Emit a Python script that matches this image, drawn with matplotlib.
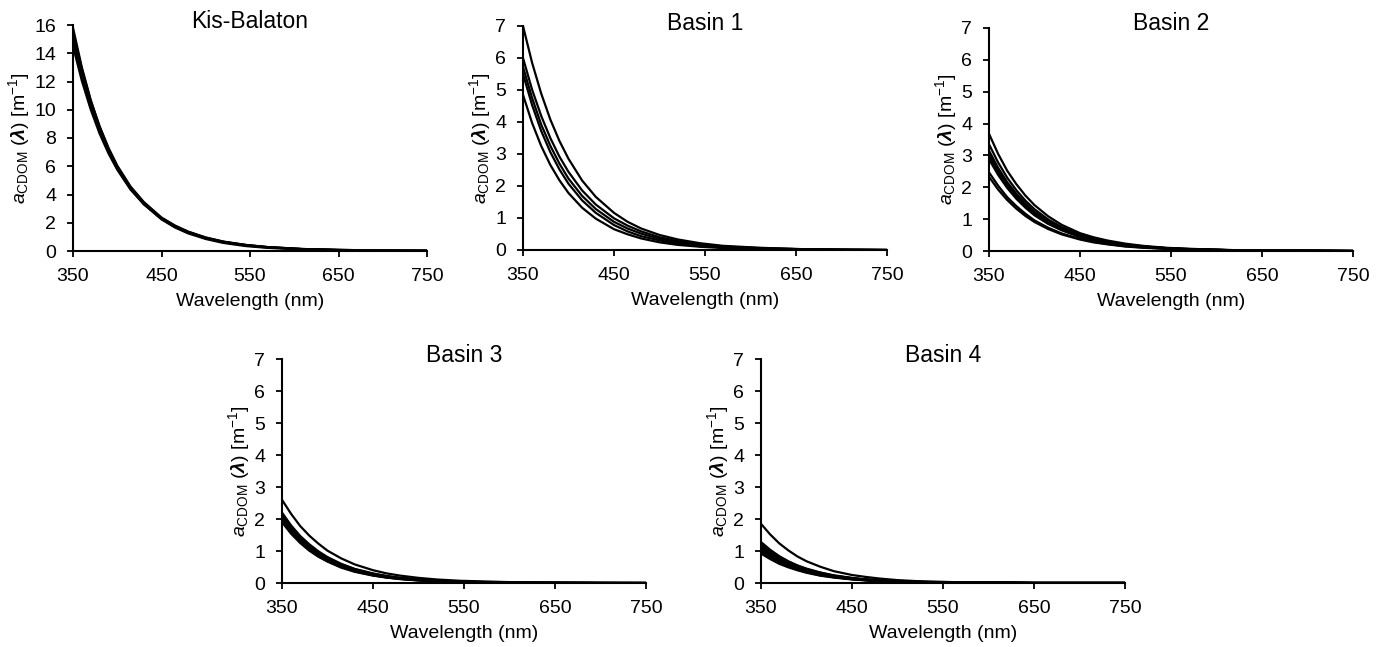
import matplotlib
matplotlib.use("Agg")
import matplotlib.pyplot as plt

plt.rcParams['font.family'] = ['Liberation Sans', 'DejaVu Sans']
plt.rcParams['mathtext.fontset'] = 'custom'
plt.rcParams['mathtext.rm'] = 'Liberation Sans'
plt.rcParams['mathtext.it'] = 'Liberation Sans:italic'
plt.rcParams['mathtext.bf'] = 'Liberation Sans:bold'
plt.rcParams['mathtext.bfit'] = 'Liberation Sans:bold:italic'

wavelength = [350, 360, 370, 380, 390, 400, 415, 430, 450, 465, 480, 500,
              520, 545, 570, 610, 650, 700, 750]

kis_balaton = [
    [15.8, 13.0, 10.7, 8.8, 7.24, 5.96, 4.44, 3.32, 2.24, 1.67, 1.25, 0.85, 0.57, 0.35, 0.22, 0.11, 0.06, 0.03, 0.02],
    [15.5, 12.87, 10.63, 8.84, 7.32, 6.05, 4.57, 3.47, 2.37, 1.81, 1.38, 0.96, 0.67, 0.43, 0.28, 0.14, 0.08, 0.03, 0.02],
    [15.2, 12.62, 10.43, 8.66, 7.17, 5.93, 4.48, 3.4, 2.33, 1.78, 1.35, 0.94, 0.65, 0.43, 0.27, 0.14, 0.08, 0.03, 0.02],
    [14.9, 12.37, 10.22, 8.49, 7.03, 5.81, 4.4, 3.34, 2.28, 1.74, 1.33, 0.92, 0.64, 0.42, 0.27, 0.13, 0.07, 0.03, 0.01],
    [14.5, 12.05, 10.02, 8.32, 6.92, 5.76, 4.35, 3.31, 2.28, 1.73, 1.31, 0.9, 0.62, 0.39, 0.25, 0.12, 0.06, 0.03, 0.01],
]

basin1 = [
    [7.0, 5.85, 4.89, 4.08, 3.41, 2.85, 2.17, 1.66, 1.16, 0.88, 0.67, 0.47, 0.33, 0.21, 0.13, 0.07, 0.03, 0.01, 0.0],
    [6.0, 5.01, 4.19, 3.5, 2.92, 2.44, 1.86, 1.42, 0.99, 0.76, 0.58, 0.4, 0.28, 0.18, 0.11, 0.06, 0.03, 0.01, 0.0],
    [5.72, 4.75, 3.92, 3.26, 2.7, 2.23, 1.69, 1.28, 0.88, 0.67, 0.51, 0.35, 0.25, 0.16, 0.1, 0.05, 0.03, 0.01, 0.0],
    [5.5, 4.53, 3.72, 3.06, 2.52, 2.07, 1.55, 1.16, 0.78, 0.58, 0.43, 0.3, 0.2, 0.12, 0.08, 0.04, 0.02, 0.01, 0.0],
    [4.85, 3.97, 3.25, 2.66, 2.18, 1.78, 1.32, 0.98, 0.65, 0.49, 0.36, 0.24, 0.16, 0.1, 0.06, 0.03, 0.01, 0.0, 0.0],
]

basin2 = [
    [3.68, 3.05, 2.52, 2.1, 1.74, 1.44, 1.09, 0.82, 0.56, 0.43, 0.33, 0.23, 0.16, 0.1, 0.07, 0.03, 0.02, 0.01, 0.0],
    [3.35, 2.78, 2.3, 1.91, 1.58, 1.31, 0.99, 0.75, 0.51, 0.39, 0.3, 0.21, 0.14, 0.09, 0.06, 0.03, 0.02, 0.01, 0.0],
    [3.15, 2.61, 2.16, 1.8, 1.49, 1.23, 0.93, 0.71, 0.48, 0.37, 0.28, 0.2, 0.14, 0.09, 0.06, 0.03, 0.02, 0.01, 0.0],
    [3.05, 2.53, 2.09, 1.74, 1.44, 1.19, 0.9, 0.68, 0.47, 0.36, 0.27, 0.19, 0.13, 0.09, 0.05, 0.03, 0.02, 0.01, 0.0],
    [2.95, 2.45, 2.02, 1.68, 1.39, 1.15, 0.87, 0.66, 0.45, 0.35, 0.26, 0.18, 0.13, 0.08, 0.05, 0.03, 0.01, 0.01, 0.0],
    [2.88, 2.39, 1.98, 1.64, 1.36, 1.12, 0.85, 0.65, 0.44, 0.34, 0.26, 0.18, 0.12, 0.08, 0.05, 0.03, 0.01, 0.01, 0.0],
    [2.47, 2.05, 1.69, 1.41, 1.17, 0.96, 0.73, 0.55, 0.38, 0.29, 0.22, 0.15, 0.11, 0.07, 0.04, 0.02, 0.01, 0.0, 0.0],
    [2.33, 1.93, 1.6, 1.33, 1.1, 0.91, 0.69, 0.52, 0.36, 0.27, 0.21, 0.14, 0.1, 0.07, 0.04, 0.02, 0.01, 0.0, 0.0],
]

basin3 = [
    [2.6, 2.16, 1.78, 1.48, 1.23, 1.01, 0.77, 0.58, 0.4, 0.3, 0.23, 0.16, 0.11, 0.07, 0.05, 0.02, 0.01, 0.01, 0.0],
    [2.2, 1.8, 1.47, 1.21, 0.99, 0.81, 0.6, 0.44, 0.3, 0.22, 0.16, 0.11, 0.07, 0.04, 0.03, 0.01, 0.01, 0.0, 0.0],
    [2.12, 1.74, 1.42, 1.16, 0.95, 0.78, 0.58, 0.43, 0.29, 0.21, 0.16, 0.11, 0.07, 0.04, 0.03, 0.01, 0.01, 0.0, 0.0],
    [2.05, 1.66, 1.35, 1.09, 0.89, 0.72, 0.52, 0.38, 0.25, 0.18, 0.13, 0.09, 0.06, 0.04, 0.02, 0.01, 0.0, 0.0, 0.0],
    [2.0, 1.64, 1.34, 1.1, 0.9, 0.74, 0.55, 0.4, 0.27, 0.2, 0.15, 0.1, 0.07, 0.04, 0.02, 0.01, 0.01, 0.0, 0.0],
    [1.95, 1.58, 1.28, 1.04, 0.84, 0.68, 0.5, 0.36, 0.24, 0.17, 0.13, 0.08, 0.05, 0.04, 0.02, 0.01, 0.0, 0.0, 0.0],
    [1.9, 1.54, 1.25, 1.01, 0.82, 0.67, 0.48, 0.35, 0.23, 0.17, 0.12, 0.08, 0.05, 0.03, 0.02, 0.01, 0.0, 0.0, 0.0],
]

basin4 = [
    [1.85, 1.52, 1.24, 1.02, 0.83, 0.68, 0.51, 0.37, 0.25, 0.19, 0.14, 0.09, 0.06, 0.04, 0.02, 0.01, 0.0, 0.0, 0.0],
    [1.28, 1.04, 0.84, 0.68, 0.55, 0.45, 0.33, 0.24, 0.16, 0.11, 0.08, 0.06, 0.04, 0.02, 0.01, 0.01, 0.0, 0.0, 0.0],
    [1.24, 1.01, 0.81, 0.66, 0.54, 0.43, 0.32, 0.23, 0.15, 0.11, 0.08, 0.05, 0.03, 0.02, 0.01, 0.01, 0.0, 0.0, 0.0],
    [1.2, 0.97, 0.79, 0.64, 0.52, 0.42, 0.31, 0.22, 0.15, 0.11, 0.08, 0.05, 0.03, 0.02, 0.01, 0.01, 0.0, 0.0, 0.0],
    [1.16, 0.94, 0.76, 0.62, 0.5, 0.41, 0.3, 0.22, 0.14, 0.1, 0.08, 0.05, 0.03, 0.02, 0.01, 0.01, 0.0, 0.0, 0.0],
    [1.12, 0.91, 0.74, 0.6, 0.48, 0.39, 0.29, 0.21, 0.14, 0.1, 0.07, 0.05, 0.03, 0.02, 0.01, 0.01, 0.0, 0.0, 0.0],
    [1.08, 0.88, 0.71, 0.58, 0.47, 0.38, 0.28, 0.2, 0.13, 0.1, 0.07, 0.05, 0.03, 0.02, 0.01, 0.01, 0.0, 0.0, 0.0],
    [1.04, 0.84, 0.68, 0.55, 0.45, 0.36, 0.27, 0.19, 0.13, 0.09, 0.07, 0.04, 0.03, 0.02, 0.01, 0.01, 0.0, 0.0, 0.0],
    [1.0, 0.81, 0.66, 0.53, 0.43, 0.35, 0.26, 0.19, 0.12, 0.09, 0.07, 0.04, 0.03, 0.02, 0.01, 0.01, 0.0, 0.0, 0.0],
    [0.96, 0.78, 0.63, 0.51, 0.41, 0.34, 0.24, 0.18, 0.12, 0.09, 0.06, 0.04, 0.03, 0.02, 0.01, 0.0, 0.0, 0.0, 0.0],
    [0.92, 0.75, 0.6, 0.49, 0.4, 0.32, 0.23, 0.17, 0.11, 0.08, 0.06, 0.04, 0.03, 0.02, 0.01, 0.0, 0.0, 0.0, 0.0],
]

titles = ["Kis-Balaton", "Basin 1", "Basin 2", "Basin 3", "Basin 4"]
spectra = [kis_balaton, basin1, basin2, basin3, basin4]
ymax = [16, 7, 7, 7, 7]
ystep = [2, 1, 1, 1, 1]

W, H = 1382, 647
fig = plt.figure(figsize=(W / 100, H / 100), dpi=100)

# axes boxes in pixels: left, top, right, bottom
boxes = [(73, 25, 427, 251), (523, 26, 887, 250), (989, 28, 1353, 251),
         (282, 359, 646, 583), (761, 359, 1125, 583)]
title_y = [21, 24, 24, 355, 355]

ylab = r'$a_{\mathrm{CDOM}}$ ($\mathbfit{\lambda}$) [m$^{\mathrm{-1}}$]'

for i in range(5):
    l, t, r, b = boxes[i]
    ax = fig.add_axes([l / W, 1 - b / H, (r - l) / W, (b - t) / H])
    for curve in spectra[i]:
        ax.plot(wavelength, curve, color='black', lw=1.6)
    ax.set_xlim(350, 750)
    ax.set_ylim(0, ymax[i])
    ax.set_xticks([350, 450, 550, 650, 750])
    ax.set_yticks(range(0, ymax[i] + 1, ystep[i]))
    ax.spines['top'].set_visible(False)
    ax.spines['right'].set_visible(False)
    ax.spines['left'].set_linewidth(1.5)
    ax.spines['bottom'].set_linewidth(1.5)
    ax.tick_params(direction='out', length=4, width=1.3, labelsize=14)
    ax.tick_params(axis='x', pad=8)
    ax.tick_params(axis='y', pad=8)
    ax.set_xlabel("Wavelength (nm)", fontsize=14, labelpad=6)
    ax.set_ylabel(ylab, fontsize=14, labelpad=2)
    fig.text((l + r) / 2 / W, 1 - title_y[i] / H, titles[i], ha='center', va='center',
             fontsize=16.5)

fig.savefig("out.png", dpi=100)
